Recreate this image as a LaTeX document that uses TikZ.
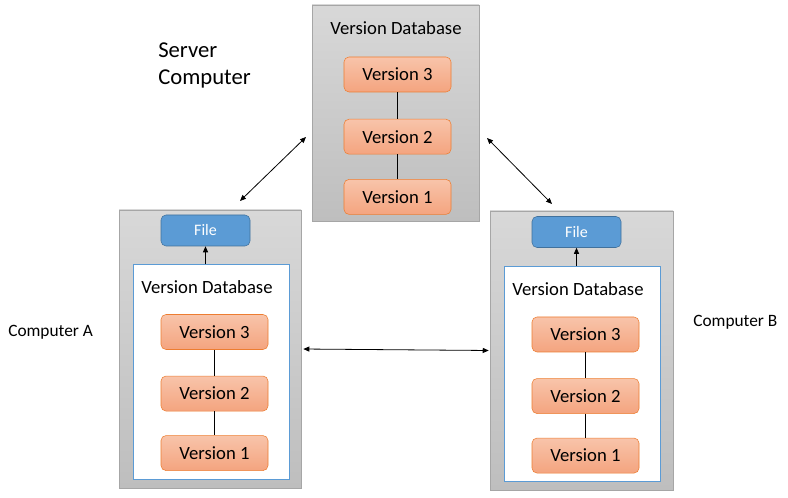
\documentclass[tikz,border=0pt]{standalone}
\usepackage{fontspec}
\setmainfont{Carlito}
\usetikzlibrary{positioning,arrows.meta}

\definecolor{boxTop}{HTML}{D8D8D8}
\definecolor{boxBot}{HTML}{BEBEBE}
\definecolor{boxLine}{HTML}{A6A6A6}
\definecolor{verTop}{HTML}{F8C4AA}
\definecolor{verBot}{HTML}{F4A47F}
\definecolor{verLine}{HTML}{ED7D31}
\definecolor{fileBlue}{HTML}{5B9BD5}
\definecolor{fileLine}{HTML}{41719C}

\tikzset{
 computer/.style={draw=boxLine, top color=boxTop, bottom color=boxBot, inner sep=0pt},
 database/.style={draw=fileBlue, fill=white, inner sep=0pt},
 version/.style={draw=verLine, top color=verTop, bottom color=verBot, rounded corners=3.75pt,
   minimum width=80.25pt, minimum height=26.25pt, inner sep=0pt, font=\fontsize{14}{16}\selectfont},
 filebox/.style={draw=fileLine, fill=fileBlue, rounded corners=3.75pt, text=white,
   minimum width=66.75pt, minimum height=23.25pt, inner sep=0pt, font=\fontsize{12}{14}\selectfont},
 dblabel/.style={inner sep=0pt, font=\fontsize{14}{16}\selectfont},
 link/.style={{Triangle[length=4.5pt,width=3.75pt]}-{Triangle[length=4.5pt,width=3.75pt]}, line width=0.6pt},
 up/.style={-{Triangle[length=4.5pt,width=3.75pt]}, line width=0.6pt},
}

\begin{document}
\begin{tikzpicture}[x=0.75pt, y=-0.75pt]
 \useasboundingbox (0,0) rectangle (788,498);

 %Boxes
 \node (server) [computer, minimum width=125.25pt, minimum height=162pt] at (395.5,113) {};
 \node (compA) [computer, minimum width=136.5pt, minimum height=208.5pt] at (210,349) {};
 \node (compB) [computer, minimum width=137.25pt, minimum height=209.25pt] at (581.5,350.5) {};

 \node (dbA) [database, minimum width=117pt, minimum height=161.25pt] at (211,371.5) {};
 \node (dbB) [database, minimum width=117pt, minimum height=161.25pt] at (582,373.5) {};

 %Names
 \node (serverName) [dblabel] at (396,28) {Version Database};
 \node (dbAName) [dblabel] at (207,287) {Version Database};
 \node (dbBName) [dblabel] at (578,289) {Version Database};

 \node (serverText) [inner sep=0pt, anchor=west, align=left, font=\fontsize{17}{20}\selectfont] at (158,65.5) {Server\\Computer};
 \node (compAText) [inner sep=0pt, anchor=west, font=\fontsize{13}{15}\selectfont] at (8,332) {Computer A};
 \node (compBText) [inner sep=0pt, anchor=west, font=\fontsize{13}{15}\selectfont] at (693,322) {Computer B};

 %Files
 \node (fileA) [filebox] at (205.5,230.5) {File};
 \node (fileB) [filebox] at (576.5,232) {File};

 %Versions
 \node (sv3) [version] at (397.5,74.5) {Version 3};
 \node (sv2) [version, below=20pt of sv3] {Version 2};
 \node (sv1) [version, below=18.5pt of sv2] {Version 1};

 \node (av3) [version] at (214.5,332) {Version 3};
 \node (av2) [version, below=19.5pt of av3] {Version 2};
 \node (av1) [version, below=18pt of av2] {Version 1};

 \node (bv3) [version] at (585.5,334.5) {Version 3};
 \node (bv2) [version, below=19.5pt of bv3] {Version 2};
 \node (bv1) [version, below=18pt of bv2] {Version 1};

 \draw (sv3) -- (sv2) -- (sv1);
 \draw (av3) -- (av2) -- (av1);
 \draw (bv3) -- (bv2) -- (bv1);

 %Arrows
 \coordinate (serverLeft) at (306,137);
 \coordinate (topA) at (240,201);
 \coordinate (serverRight) at (487,138);
 \coordinate (topB) at (552,204);

 \draw[link] (serverLeft) -- (topA);
 \draw[link] (serverRight) -- (topB);
 \draw[link, shorten <=1.5pt, shorten >=0.75pt] (compA.east) -- (compB.west);

 \draw[up] (fileA.south |- dbA.north) -- (fileA.south);
 \draw[up] (fileB.south |- dbB.north) -- (fileB.south);

\end{tikzpicture}
\end{document}
